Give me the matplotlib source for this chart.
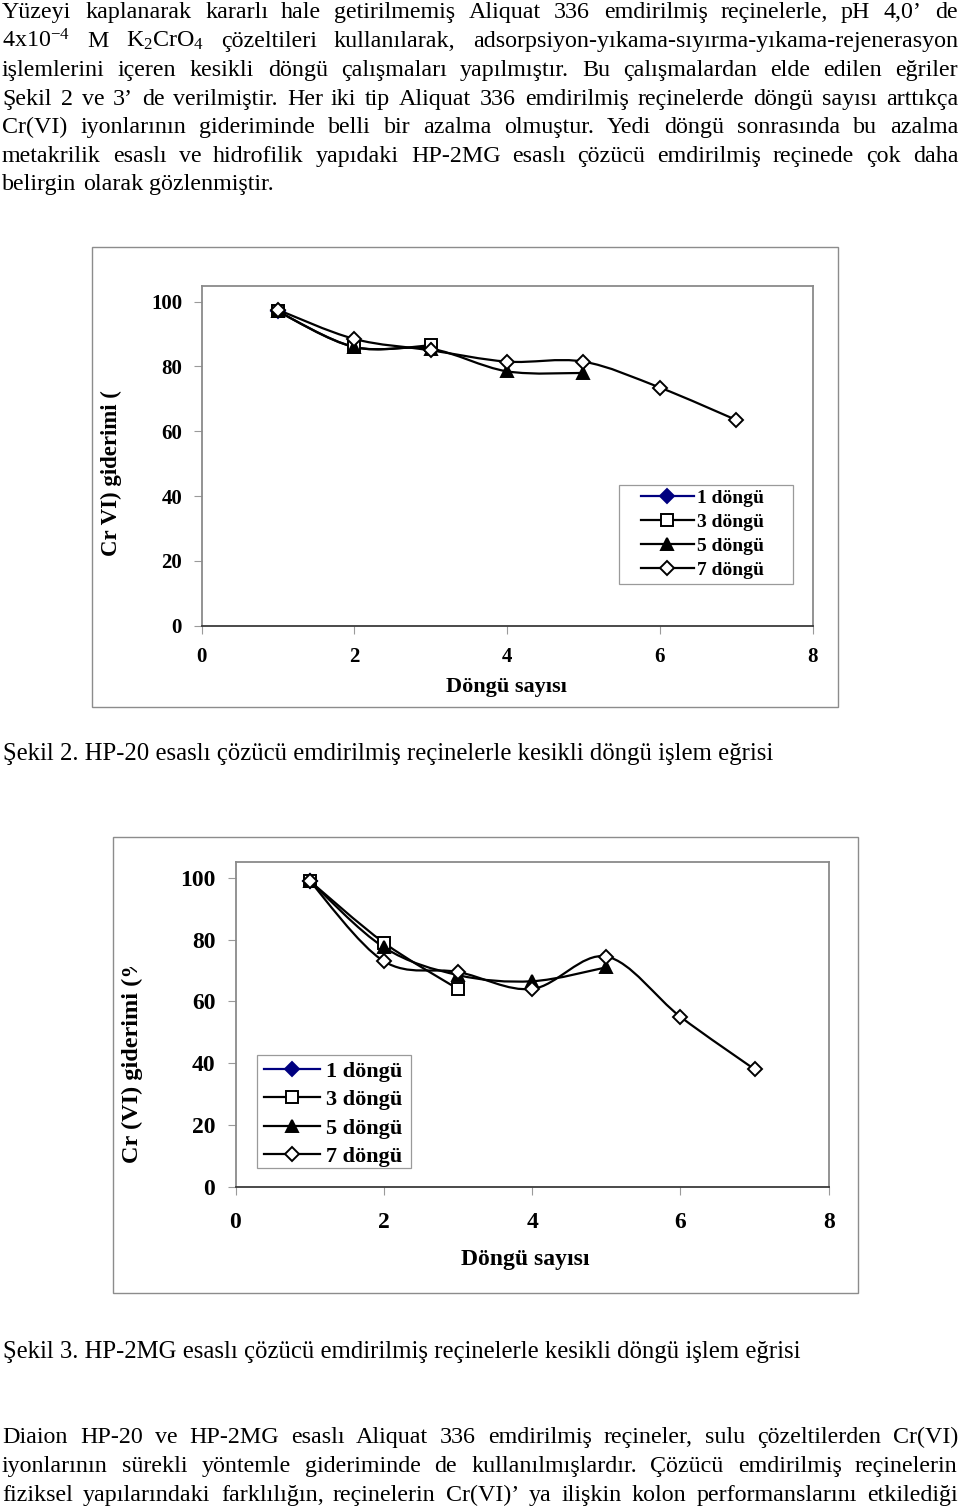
import numpy as np
import matplotlib
matplotlib.use('Agg')
import matplotlib.pyplot as plt
from matplotlib.path import Path
from matplotlib.patches import PathPatch, Rectangle
from matplotlib.lines import Line2D
from matplotlib.transforms import Bbox, TransformedBbox

plt.rcParams['font.family'] = 'Liberation Serif'
plt.rcParams['mathtext.fontset'] = 'custom'
plt.rcParams['mathtext.rm'] = 'Liberation Serif'
plt.rcParams['mathtext.it'] = 'Liberation Serif:italic'
plt.rcParams['mathtext.bf'] = 'Liberation Serif:bold'

W, H, DPI = 960, 1509, 100

# ---------------- data ----------------
cycles = [1, 2, 3, 4, 5, 6, 7]
series_names = ['1 döngü', '3 döngü', '5 döngü', '7 döngü']

hp20_c1 = [97.0]
hp20_c3 = [97.0, 86.0, 86.5]
hp20_c5 = [97.0, 86.0, 85.5, 78.5, 78.0]
hp20_c7 = [97.5, 88.5, 85.0, 81.5, 81.5, 73.5, 63.5]

hp2mg_c1 = [99.0]
hp2mg_c3 = [99.0, 79.0, 64.0]
hp2mg_c5 = [99.0, 77.5, 68.5, 66.5, 71.0]
hp2mg_c7 = [99.0, 73.0, 69.5, 64.0, 74.5, 55.0, 38.0]

x_ticks = [0, 2, 4, 6, 8]
y_ticks = [0, 20, 40, 60, 80, 100]
x_label = 'Döngü sayısı'
y_label_1 = 'Cr VI) giderimi ('
y_label_2 = 'Cr (VI) giderimi (%'

para1 = [
    ['Yüzeyi', 'kaplanarak', 'kararlı', 'hale', 'getirilmemiş', 'Aliquat', '336', 'emdirilmiş', 'reçinelerle,', 'pH', '4,0’', 'de'],
    ['4x10$^{-4}$', 'M', 'K$_2$CrO$_4$', 'çözeltileri', 'kullanılarak,', 'adsorpsiyon-yıkama-sıyırma-yıkama-rejenerasyon'],
    ['işlemlerini', 'içeren', 'kesikli', 'döngü', 'çalışmaları', 'yapılmıştır.', 'Bu', 'çalışmalardan', 'elde', 'edilen', 'eğriler'],
    ['Şekil', '2', 've', '3’', 'de', 'verilmiştir.', 'Her', 'iki', 'tip', 'Aliquat', '336', 'emdirilmiş', 'reçinelerde', 'döngü', 'sayısı', 'arttıkça'],
    ['Cr(VI)', 'iyonlarının', 'gideriminde', 'belli', 'bir', 'azalma', 'olmuştur.', 'Yedi', 'döngü', 'sonrasında', 'bu', 'azalma'],
    ['metakrilik', 'esaslı', 've', 'hidrofilik', 'yapıdaki', 'HP-2MG', 'esaslı', 'çözücü', 'emdirilmiş', 'reçinede', 'çok', 'daha'],
    ['belirgin', 'olarak', 'gözlenmiştir.'],
]
caption1 = 'Şekil 2. HP-20 esaslı çözücü emdirilmiş reçinelerle kesikli döngü işlem eğrisi'
caption2 = 'Şekil 3. HP-2MG esaslı çözücü emdirilmiş reçinelerle kesikli döngü işlem eğrisi'
para2 = [
    ['Diaion', 'HP-20', 've', 'HP-2MG', 'esaslı', 'Aliquat', '336', 'emdirilmiş', 'reçineler,', 'sulu', 'çözeltilerden', 'Cr(VI)'],
    ['iyonlarının', 'sürekli', 'yöntemle', 'gideriminde', 'de', 'kullanılmışlardır.', 'Çözücü', 'emdirilmiş', 'reçinelerin'],
    ['fiziksel', 'yapılarındaki', 'farklılığın,', 'reçinelerin', 'Cr(VI)’', 'ya', 'ilişkin', 'kolon', 'performanslarını', 'etkilediği'],
]

fig = plt.figure(figsize=(W / DPI, H / DPI), dpi=DPI)
fig.patch.set_facecolor('white')
renderer = fig.canvas.get_renderer()


def fy(y):
    return 1 - y / H


def fx(x):
    return x / W


# ---------------- justified body text ----------------
BODY_FS = 17.3
CAP_FS = 17.8
X0, X1 = 2.5, 958.0


def text_line(words, yb, fs, justify=True):
    arts = [fig.text(0, fy(yb), w, fontsize=fs, va='baseline', ha='left') for w in words]
    widths = [a.get_window_extent(renderer).width for a in arts]
    em = fs * DPI / 72
    if justify and len(words) > 1:
        gap = (X1 - X0 - sum(widths)) / (len(words) - 1)
    else:
        gap = 0.25 * em
    x = X0
    for a, w in zip(arts, widths):
        a.set_x(fx(round(x)))
        x += w + gap
    return arts


def natural_width(words, fs):
    tot = 0
    for w in words:
        t = fig.text(0, 0, w, fontsize=fs)
        tot += t.get_window_extent(renderer).width
        t.remove()
    return tot + 0.2 * fs * DPI / 72 * (len(words) - 1)


fs1 = BODY_FS
for words in para1[:-1]:
    nw = natural_width(words, fs1)
    if nw > (X1 - X0):
        fs1 = fs1 * (X1 - X0) / nw
p1_base = [18, 47, 76, 105, 133, 162, 190]
for i, (words, yb) in enumerate(zip(para1, p1_base)):
    text_line(words, yb, fs1, justify=(i < len(para1) - 1))

fig.text(fx(3), fy(760), caption1, fontsize=CAP_FS, va='baseline', ha='left')
fig.text(fx(3), fy(1358), caption2, fontsize=CAP_FS, va='baseline', ha='left')

fs2 = BODY_FS
for words in para2:
    nw = natural_width(words, fs2)
    if nw > (X1 - X0):
        fs2 = fs2 * (X1 - X0) / nw
p2_base = [1443, 1472, 1501]
for words, yb in zip(para2, p2_base):
    text_line(words, yb, fs2, justify=True)


# ---------------- charts ----------------
def smooth_path(xs, ys):
    pts = np.column_stack([xs, ys]).astype(float)
    n = len(pts)
    verts = [pts[0]]
    codes = [Path.MOVETO]
    for i in range(n - 1):
        p0 = pts[i - 1] if i > 0 else pts[i]
        p1 = pts[i]
        p2 = pts[i + 1]
        p3 = pts[i + 2] if i + 2 < n else pts[i + 1]
        c1 = p1 + (p2 - p0) / 6.0
        c2 = p2 - (p3 - p1) / 6.0
        verts += [c1, c2, p2]
        codes += [Path.CURVE4] * 3
    return Path(verts, codes)


styles = [
    dict(color='#000080', marker='D', mfc='#000080', mec='#000080', ms=7),
    dict(color='black', marker='s', mfc='white', mec='black', ms=8),
    dict(color='black', marker='^', mfc='black', mec='black', ms=9),
    dict(color='black', marker='D', mfc='white', mec='black', ms=7),
]


def make_chart(frame, plot, ymax, series, tick_fs, xpad, ypad, ylab, ylab_x, ylab_bottom,
               ylab_fs, ylab_clip_top, xlab_xy, xlab_fs, leg_box, leg_xy, leg_fs, leg_ls,
               leg_hl, leg_tp):
    fx0, fy0, fx1, fy1 = frame
    fig.patches.append(Rectangle((fx(fx0), fy(fy1)), (fx1 - fx0) / W, (fy1 - fy0) / H,
                                 transform=fig.transFigure, fill=False,
                                 edgecolor='#8c8c8c', lw=1.0, zorder=0))
    x0, ytop, x1, ybot = plot
    ax = fig.add_axes([fx(x0), fy(ybot), (x1 - x0) / W, (ybot - ytop) / H])
    ax.set_xlim(0, 8)
    ax.set_ylim(0, ymax)
    for sp in ['top', 'right', 'left']:
        ax.spines[sp].set_color('#8a8a8a')
        ax.spines[sp].set_linewidth(1.3)
    ax.spines['bottom'].set_color('#3a3a3a')
    ax.spines['bottom'].set_linewidth(1.3)
    ax.set_xticks(x_ticks, labels=[str(t) for t in x_ticks], fontsize=tick_fs, fontweight='bold')
    ax.set_yticks(y_ticks, labels=[str(t) for t in y_ticks], fontsize=tick_fs, fontweight='bold')
    ax.tick_params(axis='both', direction='out', length=5.5, width=0.8, color='#9a9a9a')
    ax.tick_params(axis='x', pad=xpad)
    ax.tick_params(axis='y', pad=ypad)

    handles = []
    for vals, st, name in zip(series, styles, series_names):
        xs = cycles[:len(vals)]
        if len(vals) > 1:
            ax.add_patch(PathPatch(smooth_path(xs, vals), fill=False, edgecolor=st['color'],
                                   lw=1.6, zorder=2))
        ax.plot(xs, vals, linestyle='none', marker=st['marker'], ms=st['ms'],
                mfc=st['mfc'], mec=st['mec'], mew=1.4, zorder=3)
        handles.append(Line2D([0], [0], color=st['color'], lw=1.6, marker=st['marker'],
                              ms=st['ms'], mfc=st['mfc'], mec=st['mec'], mew=1.4))
    # legend frame drawn as its own box
    bx0, by0, bx1, by1 = leg_box
    fig.patches.append(Rectangle((fx(bx0), fy(by1)), (bx1 - bx0) / W, (by1 - by0) / H,
                                 transform=fig.transFigure, facecolor='white',
                                 edgecolor='#9a9a9a', lw=0.9, zorder=5))
    leg = ax.legend(handles, series_names, loc='upper left',
                    bbox_to_anchor=(fx(leg_xy[0]), fy(leg_xy[1])),
                    bbox_transform=fig.transFigure, borderaxespad=0, frameon=False,
                    numpoints=1, handlelength=leg_hl, handletextpad=leg_tp,
                    labelspacing=leg_ls, borderpad=0, prop=dict(weight='bold', size=leg_fs))
    leg.set_zorder(6)
    leg.remove()
    fig.legends.append(leg)
    leg.set_figure(fig)

    fig.text(fx(xlab_xy[0]), fy(xlab_xy[1]), x_label, fontsize=xlab_fs, fontweight='bold',
             ha='center', va='center')
    t = fig.text(fx(ylab_x), fy(ylab_bottom), ylab, fontsize=ylab_fs, fontweight='bold',
                 rotation=90, ha='center', va='bottom')
    if ylab_clip_top is not None:
        cb = TransformedBbox(Bbox([[0, fy(ylab_bottom + 20)], [1, fy(ylab_clip_top)]]),
                             fig.transFigure)
        t.set_clip_box(cb)
        t.set_clip_on(True)
    return ax


make_chart(frame=(92, 247, 838, 707), plot=(201.5, 285.5, 812.5, 625.6), ymax=105,
           series=[hp20_c1, hp20_c3, hp20_c5, hp20_c7], tick_fs=15.0, xpad=10.0, ypad=8.5,
           ylab=y_label_1, ylab_x=111, ylab_bottom=556, ylab_fs=16.5, ylab_clip_top=None,
           xlab_xy=(506, 687), xlab_fs=16.0,
           leg_box=(619, 485, 793, 584), leg_xy=(641, 489.5), leg_fs=14.0, leg_ls=0.32,
           leg_hl=2.7, leg_tp=0.2)

make_chart(frame=(113, 837, 858, 1293), plot=(235.5, 862.3, 828.7, 1186.7), ymax=105,
           series=[hp2mg_c1, hp2mg_c3, hp2mg_c5, hp2mg_c7], tick_fs=17.0, xpad=13.0, ypad=9.0,
           ylab=y_label_2, ylab_x=132, ylab_bottom=1163, ylab_fs=17.5, ylab_clip_top=967,
           xlab_xy=(525, 1260), xlab_fs=17.0,
           leg_box=(257, 1055, 411, 1168), leg_xy=(264, 1061), leg_fs=16.0, leg_ls=0.36,
           leg_hl=2.5, leg_tp=0.27)

fig.savefig('out.png', dpi=DPI, facecolor='white')
